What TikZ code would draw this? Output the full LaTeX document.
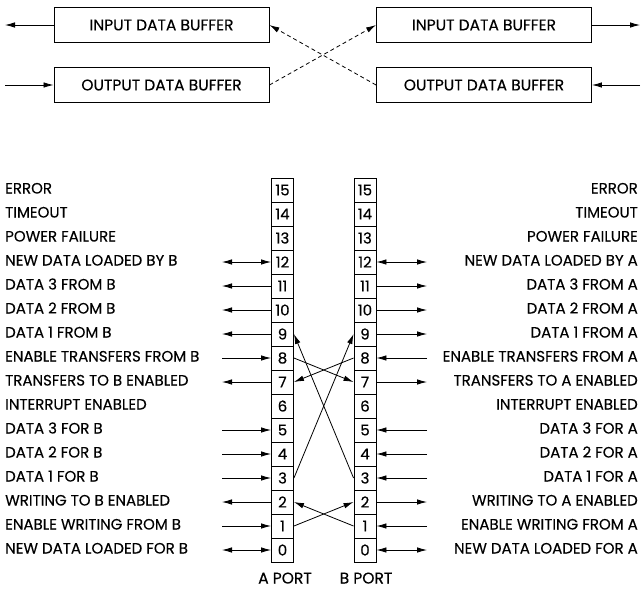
\documentclass[tikz,border=0pt]{standalone}
\usepackage{fontspec}
\setmainfont[FakeBold=0.3]{Poppins}
\usetikzlibrary{arrows.meta}
\begin{document}
\begin{tikzpicture}[x=1pt,y=-1pt,
  txt/.style={font=\fontsize{15}{15}\selectfont, inner sep=0pt, text height=0.7em, text depth=0pt},
  cell/.style={draw, line width=0.9pt, minimum width=22pt, minimum height=24pt, inner sep=0pt, font=\fontsize{15}{15}\selectfont},
  buf/.style={draw, line width=0.9pt, minimum width=215pt, minimum height=35pt, inner sep=0pt, font=\fontsize{15.5}{15.5}\selectfont},
  ar/.style={line width=0.8pt, -{Latex[length=10pt,width=5.5pt]}},
  dar/.style={line width=0.8pt, {Latex[length=10pt,width=5.5pt]}-{Latex[length=10pt,width=5.5pt]}},
  dsh/.style={ar, dash pattern=on 4pt off 3pt}
]
\useasboundingbox (0,0) rectangle (643,590);
% top buffers
\node[buf] (li) at (161.5,25) {INPUT DATA BUFFER};
\node[buf] (lo) at (161.5,85) {OUTPUT DATA BUFFER};
\node[buf] (ri) at (484,25) {INPUT DATA BUFFER};
\node[buf] (ro) at (484,85) {OUTPUT DATA BUFFER};
\coordinate (lia) at (5,25);
\coordinate (loa) at (5,85);
\coordinate (ria) at (640,25);
\coordinate (roa) at (640,85);
\draw[ar] (li.west) -- (lia);
\draw[ar] (loa) -- (lo.west);
\draw[ar] (ri.east) -- (ria);
\draw[ar] (roa) -- (ro.east);
\draw[dsh] (lo.east) -- (ri.west);
\draw[dsh] (ro.west) -- (li.east);
% registers
\foreach \k in {0,...,15} {
  \node[cell] (a\k) at (282.5,550-24*\k) {\k};
  \node[cell] (b\k) at (365,550-24*\k) {\k};
  \coordinate (l\k) at (222,550-24*\k);
  \coordinate (r\k) at (427,550-24*\k);
}
% left labels
\foreach \k/\t in {15/ERROR,14/TIMEOUT,13/POWER FAILURE,12/NEW DATA LOADED BY B,11/DATA 3 FROM B,10/DATA 2 FROM B,9/DATA 1 FROM B,8/ENABLE TRANSFERS FROM B,7/TRANSFERS TO B ENABLED,6/INTERRUPT ENABLED,5/DATA 3 FOR B,4/DATA 2 FOR B,3/DATA 1 FOR B,2/WRITING TO B ENABLED,1/ENABLE WRITING FROM B,0/NEW DATA LOADED FOR B}
  \node[txt, anchor=west] (la\k) at (5,550-24*\k) {\t};
% right labels
\foreach \k/\t in {15/ERROR,14/TIMEOUT,13/POWER FAILURE,12/NEW DATA LOADED BY A,11/DATA 3 FROM A,10/DATA 2 FROM A,9/DATA 1 FROM A,8/ENABLE TRANSFERS FROM A,7/TRANSFERS TO A ENABLED,6/INTERRUPT ENABLED,5/DATA 3 FOR A,4/DATA 2 FOR A,3/DATA 1 FOR A,2/WRITING TO A ENABLED,1/ENABLE WRITING FROM A,0/NEW DATA LOADED FOR A}
  \node[txt, anchor=east] (ra\k) at (638,550-24*\k) {\t};
% left connectors
\draw[dar] (l12) -- (a12.west);
\draw[dar] (l0) -- (a0.west);
\foreach \k in {11,10,9,7,2} \draw[ar] (a\k.west) -- (l\k);
\foreach \k in {8,5,4,3,1} \draw[ar] (l\k) -- (a\k.west);
% right connectors
\draw[dar] (b12.east) -- (r12);
\draw[dar] (b0.east) -- (r0);
\foreach \k in {11,10,9,7,2} \draw[ar] (b\k.east) -- (r\k);
\foreach \k in {8,5,4,3,1} \draw[ar] (r\k) -- (b\k.east);
% crossings
\draw[ar] (a8.east) -- (b7.west);
\draw[ar] (b8.west) -- (a7.east);
\draw[ar] (a3.east) -- (b9.west);
\draw[ar] (b3.west) -- (a9.east);
\draw[ar] (a1.east) -- (b2.west);
\draw[ar] (b1.west) -- (a2.east);
% port labels
\node[txt, font=\fontsize{15.5}{15.5}\selectfont] (ap) at (285,580) {A PORT};
\node[txt, font=\fontsize{15.5}{15.5}\selectfont] (bp) at (366,580) {B PORT};
\end{tikzpicture}
\end{document}
